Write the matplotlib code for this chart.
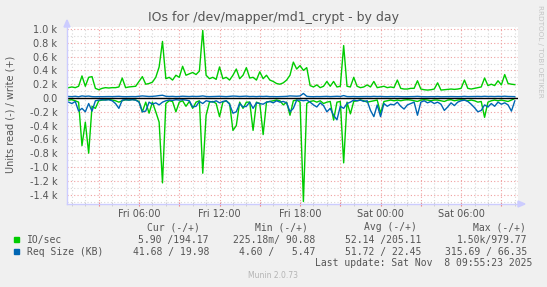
import numpy as np
import matplotlib
matplotlib.use('Agg')
from matplotlib import pyplot as plt
from matplotlib.patches import Rectangle, Polygon

W, H = 547, 287

# samples every 15 minutes, hours counted from Fri 00:00
hour_start = 0.75
hour_step = 0.25

io_write = [150, 160, 150, 170, 320, 170, 300, 310, 140, 120,
            140, 150, 145, 150, 150, 160, 290, 150, 160, 165,
            170, 240, 310, 200, 210, 230, 300, 450, 820, 280,
            300, 260, 330, 300, 460, 330, 350, 370, 340, 390,
            980, 330, 280, 300, 270, 450, 280, 300, 260, 330,
            420, 280, 330, 440, 290, 300, 260, 380, 280, 330,
            260, 240, 210, 200, 220, 260, 330, 520, 420, 470,
            400, 440, 180, 160, 190, 150, 170, 240, 170, 240,
            160, 170, 760, 170, 160, 300, 170, 150, 160, 190,
            160, 240, 150, 160, 170, 150, 160, 150, 260, 140,
            130, 130, 140, 140, 250, 130, 120, 115, 120, 130,
            220, 115, 120, 125, 130, 125, 130, 140, 260, 140,
            130, 140, 150, 160, 290, 180, 200, 180, 250, 190,
            340, 210, 200, 194]

io_read = [30, 25, 40, 60, 690, 350, 800, 120, 150, 40,
           30, 25, 20, 30, 40, 60, 40, 25, 30, 20,
           30, 50, 200, 60, 220, 60, 200, 350, 1230, 80,
           40, 50, 200, 60, 40, 120, 50, 150, 60, 40,
           1090, 250, 60, 50, 80, 270, 60, 40, 80, 470,
           400, 60, 150, 60, 60, 470, 60, 80, 530, 60,
           50, 40, 30, 40, 100, 60, 250, 40, 30, 60,
           1500, 80, 50, 40, 60, 40, 80, 60, 50, 320,
           60, 50, 940, 60, 230, 50, 40, 30, 40, 60,
           50, 40, 30, 220, 50, 40, 30, 40, 30, 40,
           30, 25, 30, 40, 50, 30, 25, 30, 40, 30,
           30, 40, 50, 30, 25, 40, 30, 25, 30, 40,
           30, 40, 60, 50, 280, 60, 40, 30, 40, 30,
           40, 50, 30, 6]

req_write = [22, 20, 25, 18, 30, 24, 28, 20, 18, 20,
             19, 20, 21, 20, 22, 24, 20, 19, 20, 21,
             20, 25, 30, 26, 22, 24, 28, 35, 40, 25,
             22, 24, 20, 22, 26, 23, 21, 25, 22, 24,
             30, 22, 20, 21, 23, 25, 22, 20, 24, 28,
             26, 22, 24, 27, 21, 23, 20, 24, 22, 25,
             20, 21, 19, 20, 22, 24, 30, 28, 26, 30,
             66, 24, 20, 19, 21, 20, 22, 24, 20, 23,
             25, 22, 35, 21, 20, 22, 19, 20, 21, 22,
             20, 24, 21, 23, 20, 19, 21, 20, 22, 19,
             18, 19, 20, 21, 24, 20, 19, 18, 20, 19,
             22, 18, 19, 20, 21, 20, 19, 20, 24, 20,
             21, 22, 23, 21, 25, 22, 23, 21, 24, 22,
             26, 22, 21, 20]

req_read = [60, 80, 50, 190, 150, 200, 80, 190, 40, 30,
            25, 30, 25, 40, 80, 150, 30, 25, 30, 25,
            30, 60, 200, 190, 60, 90, 70, 100, 60, 40,
            30, 35, 25, 30, 25, 30, 40, 130, 120, 50,
            80, 40, 50, 60, 40, 70, 50, 40, 90, 220,
            200, 80, 130, 120, 60, 150, 70, 80, 90, 60,
            50, 70, 40, 60, 50, 70, 200, 150, 30, 30,
            40, 30, 60, 100, 130, 70, 110, 200, 150, 250,
            316, 120, 150, 80, 60, 30, 40, 30, 50, 40,
            180, 270, 100, 270, 80, 120, 90, 100, 60, 120,
            160, 100, 80, 60, 250, 60, 40, 70, 50, 80,
            60, 90, 180, 130, 70, 110, 60, 40, 30, 50,
            90, 140, 200, 180, 100, 130, 80, 120, 60, 90,
            70, 100, 190, 42]

x_major = [3, 6, 9, 12, 15, 18, 21, 24, 27, 30, 33]
x_labels = ['', 'Fri 06:00', '', 'Fri 12:00', '', 'Fri 18:00', '',
            'Sat 00:00', '', 'Sat 06:00', '']
y_major = [-1400, -1200, -1000, -800, -600, -400, -200, 0,
           200, 400, 600, 800, 1000]
y_labels = ['-1.4 k', '-1.2 k', '-1.0 k', '-0.8 k', '-0.6 k', '-0.4 k',
            '-0.2 k', '0.0', '0.2 k', '0.4 k', '0.6 k', '0.8 k', '1.0 k']

legend_names = ['IO/sec', 'Req Size (KB)']
legend_colors = ['#00cc00', '#0066b3']
headers = ['Cur (-/+)', 'Min (-/+)', 'Avg (-/+)', 'Max (-/+)']
io_stats = ['5.90 /194.17', '225.18m/ 90.88', '52.14 /205.11', '1.50k/979.77']
req_stats = ['41.68 / 19.98', '4.60 /   5.47', '51.72 / 22.45', '315.69 / 66.35']


def fx(x):
    return x / W


def fy(y):
    return 1 - y / H


hours = hour_start + hour_step * np.arange(len(io_write))

fig = plt.figure(figsize=(W / 100, H / 100), dpi=100, facecolor='#f0f0f0')
ax = fig.add_axes([fx(67), fy(204), fx(518) - fx(67), fy(27) - fy(204)])
ax.set_facecolor('white')

ax.plot(hours, -np.array(io_read), color=legend_colors[0], lw=1.0)
ax.plot(hours, io_write, color=legend_colors[0], lw=1.0)
ax.plot(hours, -np.array(req_read), color=legend_colors[1], lw=1.0)
ax.plot(hours, req_write, color=legend_colors[1], lw=1.0)
ax.axhline(0, color='black', lw=1.0)

ax.set_xlim(0.635, 34.24)
ax.set_ylim(-1536, 1029)

ax.set_xticks(x_major)
ax.set_xticklabels(x_labels)
ax.set_xticks(np.arange(1, 35), minor=True)
ax.set_yticks(y_major)
ax.set_yticklabels(y_labels)
ax.set_yticks(np.arange(-1500, 1001, 100), minor=True)

ax.grid(which='major', color='#f0a0a0', ls=(0, (1, 2)), lw=0.8)
ax.grid(which='minor', color='#d8d8d8', ls=(0, (1, 2)), lw=0.8)
ax.set_axisbelow(True)

ax.tick_params(axis='x', which='major', length=3, direction='inout', color='#f08080',
               labelsize=7, labelcolor='#555555', pad=2)
ax.tick_params(axis='x', which='minor', length=3, direction='inout', color='#c8c8c8')
ax.tick_params(axis='y', which='both', length=0, labelsize=7, labelcolor='#555555', pad=7)

for s in ['top', 'right']:
    ax.spines[s].set_visible(False)
for s in ['left', 'bottom']:
    ax.spines[s].set_color('#ccccff')
    ax.spines[s].set_linewidth(1.0)

# axis arrows
fig.add_artist(Polygon([(fx(64), fy(27)), (fx(70), fy(27)), (fx(67), fy(20))],
                       closed=True, color='#ccccff', transform=fig.transFigure))
fig.add_artist(Polygon([(fx(518), fy(201)), (fx(518), fy(207)), (fx(525), fy(204))],
                       closed=True, color='#ccccff', transform=fig.transFigure))

fig.text(fx(273), fy(18), 'IOs for /dev/mapper/md1_crypt - by day', ha='center',
         va='center', fontsize=9, color='#555555')
fig.text(fx(11), fy(114), 'Units read (-) / write (+)', rotation=90, ha='center',
         va='center', fontsize=7, color='#555555')
fig.text(fx(540), fy(5), 'RRDTOOL / TOBI OETIKER', rotation=270, ha='center',
         va='top', fontsize=5.2, color='#c4c4c4')

mono = dict(family='DejaVu Sans Mono', fontsize=7, color='#555555', va='center')
header_x = [200, 308, 417, 526]
value_x = [209, 315, 421, 527]
for hx, txt in zip(header_x, headers):
    fig.text(fx(hx), fy(227.3), txt, ha='right', **mono)

rows_y = [239.7, 251.7]
for row_y, name, color, stats in zip(rows_y, legend_names, legend_colors, [io_stats, req_stats]):
    fig.add_artist(Rectangle((fx(14), fy(row_y + 2.7)), fx(5.3), fy(0) - fy(5.4),
                             color=color, transform=fig.transFigure))
    fig.text(fx(26.7), fy(row_y), name, ha='left', **mono)
    for vx, txt in zip(value_x, stats):
        fig.text(fx(vx), fy(row_y), txt, ha='right', **mono)

fig.text(fx(532), fy(263.3), 'Last update: Sat Nov  8 09:55:23 2025', ha='right', **mono)
fig.text(fx(248), fy(276), 'Munin 2.0.73', ha='left', va='center', fontsize=5.5,
         color='#b4b4b4')

fig.savefig('out.png', dpi=100, facecolor=fig.get_facecolor())
